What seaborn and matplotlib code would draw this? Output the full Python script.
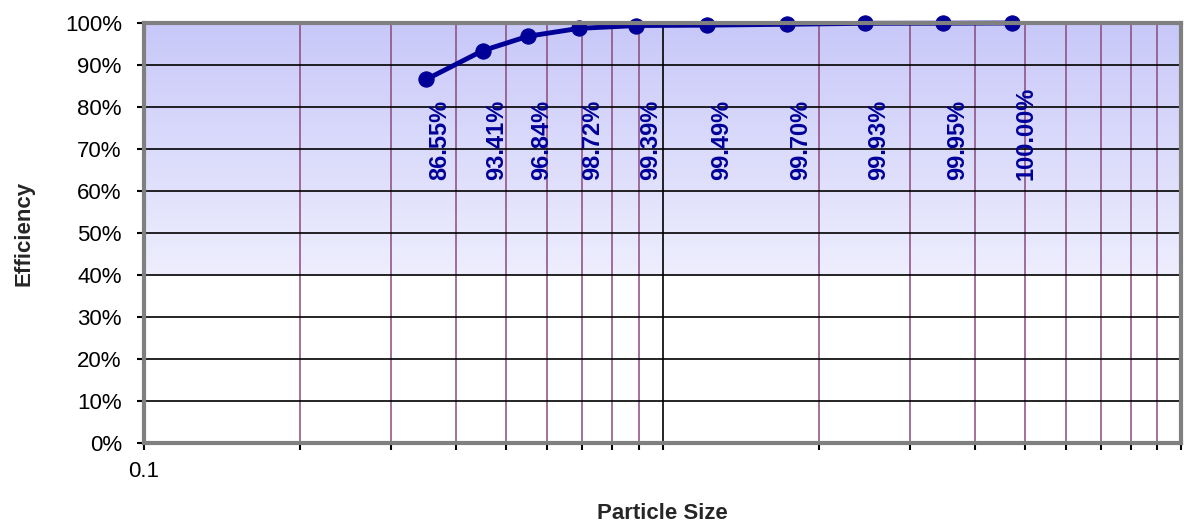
import numpy as np
import pandas as pd
import matplotlib
matplotlib.use('Agg')
import matplotlib.pyplot as plt
from matplotlib.ticker import FixedLocator, FixedFormatter, PercentFormatter
from matplotlib.colors import to_rgb
import seaborn as sns

# values
particle_size = [0.35, 0.45, 0.55, 0.69, 0.89, 1.22, 1.74, 2.46, 3.48, 4.72]
efficiency    = [86.55, 93.41, 96.84, 98.72, 99.39, 99.49, 99.70, 99.93, 99.95, 100.00]
x_major       = [0.1, 1, 10]
x_major_lbl   = ['0.1', '', '']
x_minor       = [m * d for d in (0.1, 1) for m in range(2, 10)]

df = pd.DataFrame({'size': particle_size, 'eff': [e / 100 for e in efficiency]})

sns.set_style('white')
plt.rcParams['font.family'] = ['Liberation Sans', 'DejaVu Sans']

NAVY = '#000099'

fig = plt.figure(figsize=(11.84, 5.26), dpi=100)
ax = fig.add_axes([144 / 1184, 1 - 443 / 526, (1181 - 144) / 1184, (443 - 23) / 526])

# background gradient: periwinkle at top fading out by 40%, white below
n = 420
frac = np.linspace(1, 0, n)[:, None]
top = np.array(to_rgb('#c8c8f9'))
low = np.array(to_rgb('#eeeefe'))
t = np.clip((frac - 0.4) / 0.6, 0, 1)
grad = low + (top - low) * t
grad = np.where(frac >= 0.4, grad, 1.0)
grad = np.broadcast_to(grad.reshape(n, 1, 3), (n, 2, 3))
ax.imshow(grad, extent=[0, 1, 0, 1], transform=ax.transAxes, aspect='auto', zorder=0)

sns.lineplot(data=df, x='size', y='eff', ax=ax, color=NAVY, linewidth=3.5,
             marker='o', markersize=11, markeredgecolor=NAVY, zorder=5, clip_on=False)

ax.set_xscale('log')
ax.set_xlim(0.1, 10)
ax.set_ylim(0, 1)

ax.xaxis.set_major_locator(FixedLocator(x_major))
ax.xaxis.set_major_formatter(FixedFormatter(x_major_lbl))
ax.xaxis.set_minor_locator(FixedLocator(x_minor))
ax.xaxis.set_minor_formatter(FixedFormatter([''] * len(x_minor)))
ax.yaxis.set_major_locator(FixedLocator(np.arange(0, 1.01, 0.1)))
ax.yaxis.set_major_formatter(PercentFormatter(1.0, decimals=0))

ax.set_axisbelow(True)
ax.grid(True, which='major', axis='both', color='black', linewidth=1.2, zorder=1)
ax.grid(True, which='minor', axis='x', color='#8a4a7c', linewidth=1.1, zorder=1)

ax.tick_params(axis='both', which='both', direction='out', color='black', width=1.5,
               length=5, labelsize=16, labelcolor='black', bottom=True, left=True)
ax.tick_params(axis='y', pad=11)
ax.tick_params(axis='x', pad=8)

for s in ax.spines.values():
    s.set_color('#808080')
    s.set_linewidth(3)
    s.set_zorder(6)

for x, e in zip(particle_size, efficiency):
    ax.annotate(f'{e:.2f}%', xy=(x, 0.625), xytext=(10, 0), textcoords='offset points',
                rotation=90, ha='center', va='bottom', fontsize=17, fontweight='bold',
                color=NAVY, zorder=7)

ax.set_xlabel('Particle Size', fontsize=16, fontweight='bold', labelpad=15)
ax.set_ylabel('Efficiency', fontsize=16, fontweight='bold', labelpad=22)

fig.savefig('out.png', dpi=100)
